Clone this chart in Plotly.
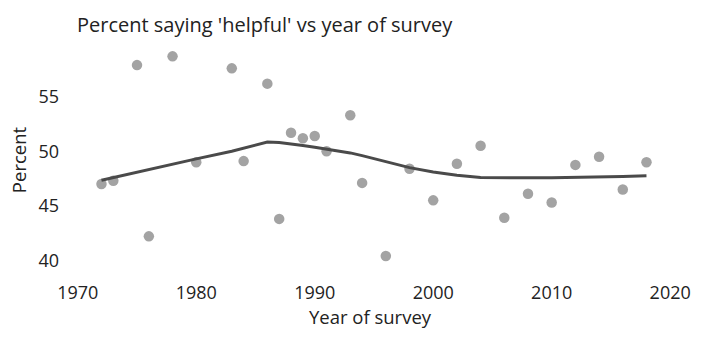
import plotly.graph_objects as go

years = [1972, 1973, 1975, 1976, 1978, 1980, 1983, 1984, 1986, 1987, 1988, 1989,
         1990, 1991, 1993, 1994, 1996, 1998, 2000, 2002, 2004, 2006, 2008, 2010,
         2012, 2014, 2016, 2018]
percent = [47.0, 47.3, 57.9, 42.2, 58.7, 49.0, 57.6, 49.1, 56.2, 43.8, 51.7, 51.2,
           51.4, 50.0, 53.3, 47.1, 40.4, 48.4, 45.5, 48.85, 50.5, 43.9, 46.1, 45.3,
           48.75, 49.5, 46.5, 49.0]
smooth = [47.35, 47.6, 48.08, 48.33, 48.8, 49.3, 50.0, 50.3, 50.85, 50.8, 50.68, 50.52,
          50.36, 50.2, 49.85, 49.6, 49.05, 48.5, 48.1, 47.8, 47.6, 47.57, 47.57, 47.58,
          47.6, 47.64, 47.69, 47.75]

fig = go.Figure()
fig.add_trace(go.Scatter(x=years, y=percent, mode="markers",
                         marker=dict(color="#a3a3a3", size=10.5, line=dict(width=0)),
                         showlegend=False, hoverinfo="x+y"))
fig.add_trace(go.Scatter(x=years, y=smooth, mode="lines",
                         line=dict(color="#4a4a4a", width=3),
                         showlegend=False))

font_family = "Open Sans, Lato, sans-serif"
fig.update_layout(
    width=703, height=337,
    margin=dict(l=60, r=15, t=40, b=55),
    plot_bgcolor="white", paper_bgcolor="white",
    font=dict(family=font_family, size=16, color="#222222"),
    title=dict(text="Percent saying 'helpful' vs year of survey",
               x=77/703, xref="container", xanchor="left",
               y=1 - 25/337, yref="container", yanchor="middle",
               font=dict(size=20, color="#222222")),
    xaxis=dict(range=[1968.5, 2020.83], tickvals=[1970, 1980, 1990, 2000, 2010, 2020],
               showgrid=False, zeroline=False, showline=False, ticks="",
               tickfont=dict(size=18),
               title=dict(text="Year of survey", standoff=8, font=dict(size=18.5))),
    yaxis=dict(range=[38.2, 60.2], tickvals=[40, 45, 50, 55],
               showgrid=False, zeroline=False, showline=False, ticks="",
               tickfont=dict(size=18),
               title=dict(text="Percent", standoff=6, font=dict(size=18.5))),
)
fig.write_html("out.html")
